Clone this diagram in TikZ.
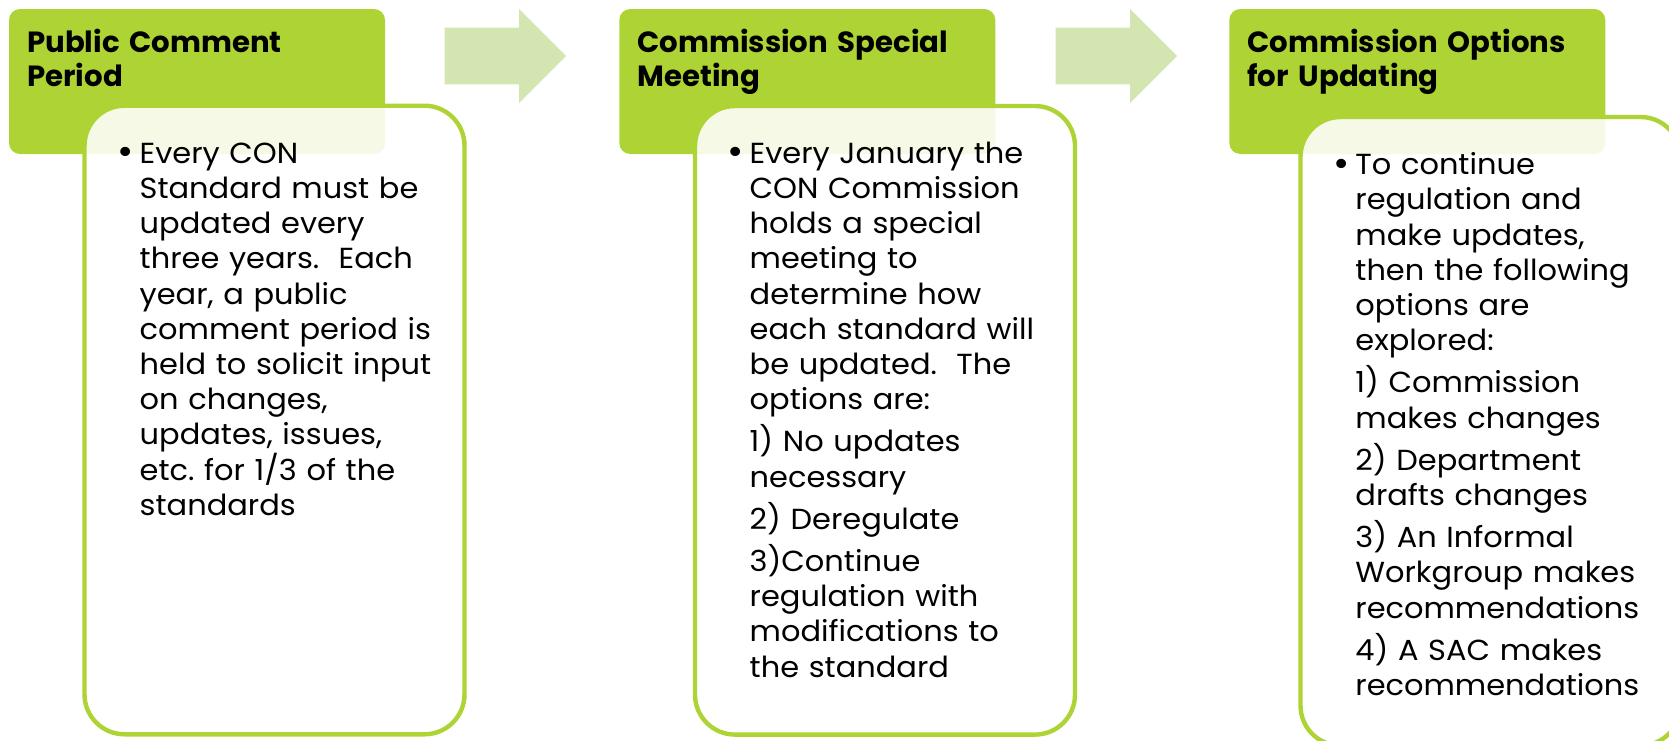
\documentclass[tikz,border=0pt]{standalone}
\usepackage{fontspec}
\setmainfont{Poppins}
\newfontfamily\bodyfont{Poppins}[FakeStretch=1.05]
\usetikzlibrary{calc,shapes.arrows}
\definecolor{limegreen}{RGB}{173,212,52}
\definecolor{palegreen}{RGB}{211,229,176}
\newcommand{\itembul}{\llap{\makebox[11pt][l]{\raisebox{-0.8pt}{\scalebox{1.3}{\textbullet}}}}}
\frenchspacing

\begin{document}
\begin{tikzpicture}[x=0.5pt, y=-0.5pt,
   hdr/.style={fill=limegreen, rounded corners=5.5pt, minimum width=188pt, minimum height=72.5pt,
               anchor=north west, inner sep=0pt, outer sep=0pt},
   body/.style={draw=limegreen, line width=2.2pt, fill=white, fill opacity=0.88, rounded corners=20pt,
                minimum width=190pt, minimum height=314.3pt, anchor=north west, inner sep=0pt, outer sep=0pt},
   flow/.style={single arrow, fill=palegreen, anchor=tail, inner sep=0pt, text height=14pt, text depth=14pt,
                single arrow head extend=9.25pt, minimum height=60.7pt},
   ttl/.style={anchor=base west, text width=180pt, align=left, inner sep=0pt,
               font=\bfseries\fontsize{14.6}{16.8}\selectfont},
   txt/.style={anchor=base west, text width=180pt, align=left, inner sep=0pt,
               font=\bodyfont\fontsize{14.5}{17.6}\selectfont}]

\useasboundingbox (0,0) rectangle (1669,740);
\clip (0,0) rectangle (1669,740);

% headers
\node[hdr] (hdrA) at (9,9) {};
\node[hdr] (hdrB) at ($(hdrA.north west)+(610.3,0)$) {};
\node[hdr] (hdrC) at ($(hdrB.north west)+(610,0)$) {};

\node[ttl] (ttlA) at ($(hdrA.north west)+(17.7,43.5)$) {Public Comment\\Period};
\node[ttl] (ttlB) at ($(hdrB.north west)+(17.7,43.5)$) {Commission Special\\Meeting};
\node[ttl] (ttlC) at ($(hdrC.north west)+(17.7,43.5)$) {Commission Options\\for Updating};

% bodies
\node[body] (bodyA) at ($(hdrA.north west)+(75.5,96.7)$) {};
\node[body] (bodyB) at ($(hdrB.north west)+(75.7,97)$) {};
\node[body] (bodyC) at ($(hdrC.north west)+(71.2,108)$) {};

% arrows
\node[flow] (flowA) at ($(hdrA.north east)+(59.3,47)$) {};
\node[flow] (flowB) at ($(hdrB.north east)+(60,47)$) {};

% texts
\node[txt] (txtA) at ($(bodyA.north west)+(54.8,57.6)$) {\itembul Every CON\\
  Standard must be\\ updated every\\ three years.\ \ Each\\ year, a public\\
  comment period is\\ held to solicit input\\ on changes,\\ updates, issues,\\
  etc. for 1/3 of the\\ standards};
\node[txt] (txtB) at ($(bodyB.north west)+(54.3,57.3)$) {\itembul Every January the\\
  CON Commission\\ holds a special\\ meeting to\\ determine how\\
  each standard will\\ be updated.\ \ The\\ options are:\\[3.5pt]
  1) No updates\\ necessary\\[3.5pt]
  2) Deregulate\\[3.5pt]
  3)Continue\\ regulation with\\ modifications to\\ the standard};
\node[txt] (txtC) at ($(bodyC.north west)+(54.5,57.7)$) {\itembul To continue\\
  regulation and\\ make updates,\\ then the following\\ options are\\ explored:\\[3.5pt]
  1) Commission\\ makes changes\\[3.5pt]
  2) Department\\ drafts changes\\[3.5pt]
  3) An Informal\\ Workgroup makes\\ recommendations\\[3.5pt]
  4) A SAC makes\\ recommendations};

\end{tikzpicture}
\end{document}
